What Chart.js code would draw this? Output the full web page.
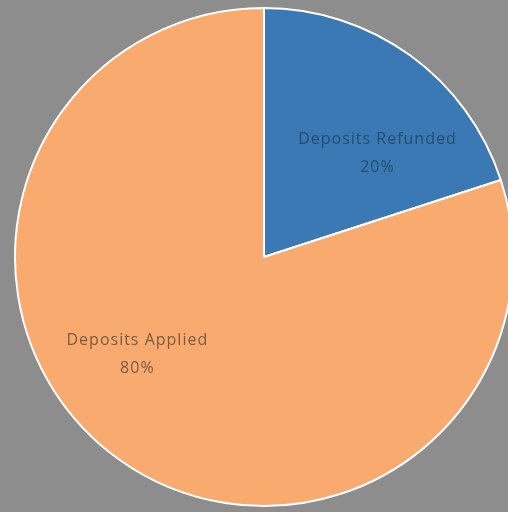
<!DOCTYPE html>
<html>
<head>
<meta charset="utf-8">
<script src="https://cdn.jsdelivr.net/npm/chart.js@4/dist/chart.umd.min.js"></script>
<style>
    html, body { margin: 0; padding: 0; background: #8d8d8d; overflow: hidden; }
    #wrap { width: 528px; height: 512px; }
</style>
</head>
<body>
<div id="wrap">
    <canvas id="myChart" width="528" height="512"></canvas>
</div>
<script>
// deposits split
const categories = ['Deposits Refunded', 'Deposits Applied'];
const shares = [20, 80];
const shareLabels = ['20%', '80%'];
const sliceColors = ['#3a79b4', '#f9aa6e'];

// draws the category name + percent inside each slice
const sliceLabels = {
    id: 'sliceLabels',
    afterDatasetsDraw(chart, args, opts) {
        const ctx = chart.ctx;
        const meta = chart.getDatasetMeta(0);
        meta.data.forEach((arc, i) => {
            const spot = opts.spots[i];
            const a = (spot.angle - 90) * Math.PI / 180;
            const r = arc.outerRadius * spot.r;
            const x = arc.x + Math.cos(a) * r;
            const y = arc.y + Math.sin(a) * r;
            ctx.save();
            ctx.font = '16px "Open Sans", sans-serif';
            ctx.letterSpacing = '1px';
            ctx.fillStyle = opts.colors[i];
            ctx.textAlign = 'center';
            ctx.textBaseline = 'middle';
            ctx.fillText(categories[i], x, y - 14);
            ctx.fillText(shareLabels[i], x, y + 14);
            ctx.restore();
        });
    }
};

const config = {
    type: 'pie',
    data: {
        labels: categories,
        datasets: [{
            data: shares,
            backgroundColor: sliceColors,
            borderColor: '#ffffff',
            borderWidth: 2
        }]
    },
    options: {
        responsive: false,
        animation: false,
        layout: { padding: { left: 14, top: 7, right: 14, bottom: 5 } },
        plugins: {
            legend: { display: false },
            tooltip: { enabled: false },
            sliceLabels: {
                spots: [{ angle: 47.6, r: 0.617 }, { angle: 232.4, r: 0.642 }],
                colors: ['#264d6e', '#7a5a44']
            }
        }
    },
    plugins: [sliceLabels]
};

new Chart(document.getElementById('myChart').getContext('2d'), config);
</script>
</body>
</html>
